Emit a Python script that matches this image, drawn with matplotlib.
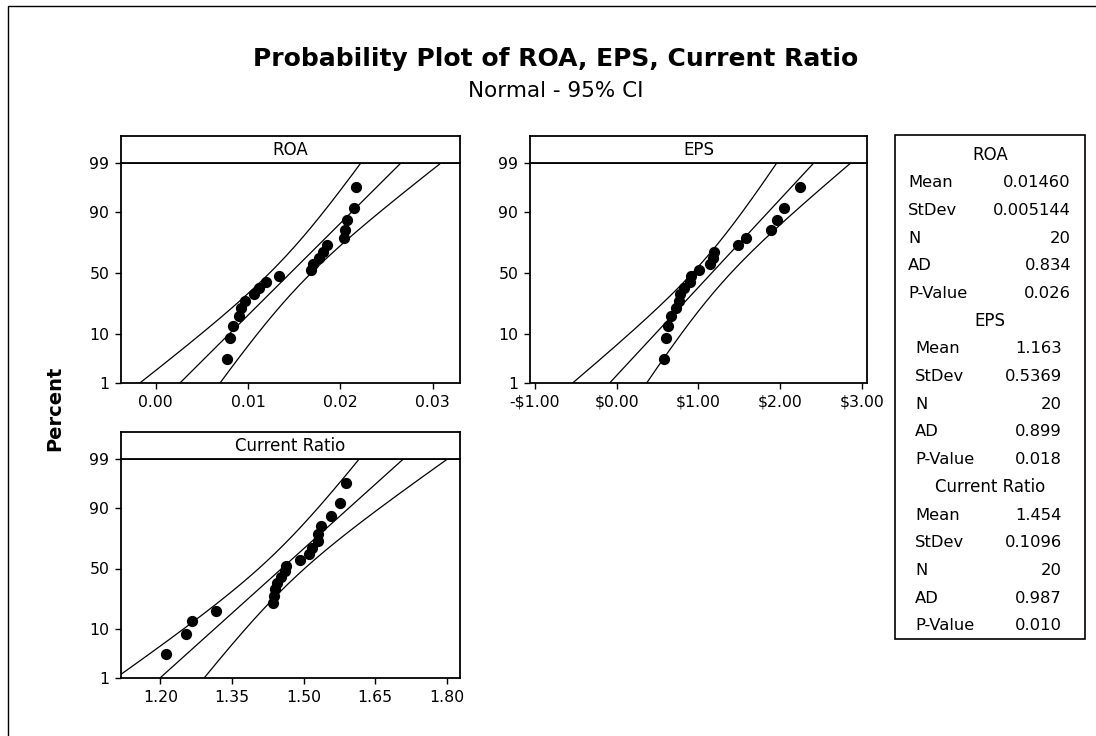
import matplotlib
matplotlib.use('Agg')
import matplotlib.pyplot as plt
from matplotlib.patches import Rectangle
import numpy as np
from statistics import NormalDist

roa = [0.00777, 0.00802, 0.00838, 0.00904, 0.00926, 0.00966, 0.01071, 0.01118, 0.01191, 0.01339,
       0.01681, 0.01710, 0.01771, 0.01815, 0.01855, 0.02044, 0.02051, 0.02069, 0.02152, 0.02174]
eps = [0.584, 0.604, 0.624, 0.669, 0.727, 0.759, 0.776, 0.824, 0.898, 0.910,
       1.004, 1.143, 1.184, 1.192, 1.490, 1.584, 1.890, 1.963, 2.053, 2.245]
current_ratio = [1.211, 1.254, 1.266, 1.317, 1.435, 1.437, 1.441, 1.445, 1.452, 1.460,
                 1.464, 1.492, 1.511, 1.518, 1.531, 1.531, 1.537, 1.558, 1.577, 1.589]

# Summary table (as printed by Minitab)
names = ['ROA', 'EPS', 'Current Ratio']
means = [0.01460, 1.163, 1.454]
stdevs = [0.005144, 0.5369, 0.1096]
ns = [20, 20, 20]
ads = [0.834, 0.899, 0.987]
pvalues = [0.026, 0.018, 0.010]
mean_txt = ['0.01460', '1.163', '1.454']
stdev_txt = ['0.005144', '0.5369', '0.1096']

pct_ticks = [1, 10, 50, 90, 99]
roa_ticks = [0.00, 0.01, 0.02, 0.03]
eps_ticks = [-1.0, 0.0, 1.0, 2.0, 3.0]
cr_ticks = [1.20, 1.35, 1.50, 1.65, 1.80]

W, H = 1096, 736
plt.rcParams['font.family'] = ['DejaVu Sans']

nd = NormalDist()
zlo, zhi = nd.inv_cdf(0.01), nd.inv_cdf(0.99)


def rect(l, t, r, b):
    return [l / W, 1 - b / H, (r - l) / W, (b - t) / H]


fig = plt.figure(figsize=(W / 100, H / 100), dpi=100)
fig.patch.set_facecolor('white')

# outer frame (only left/top edges fall inside the picture)
fig.patches.append(Rectangle((8 / W, -0.1), 1.2, 1 - 6 / H + 0.1, transform=fig.transFigure,
                             fill=False, edgecolor='black', linewidth=1.0))

fig.text(556 / W, 1 - 59 / H, 'Probability Plot of ROA, EPS, Current Ratio',
         ha='center', va='center', fontsize=18, fontweight='bold')
fig.text(556 / W, 1 - 91 / H, 'Normal - 95% CI', ha='center', va='center', fontsize=15.5)
fig.text(55 / W, 1 - 408 / H, 'Percent', ha='center', va='center', rotation=90,
         fontsize=14, fontweight='bold')

panels = [
    (roa, 0, (121, 163, 460, 383), 136, (-0.00375, 0.03297), roa_ticks,
     lambda v: f'{v:.2f}'),
    (eps, 1, (530, 163, 867, 383), 136, (-1.061, 3.064), eps_ticks,
     lambda v: ('-$' if v < 0 else '$') + f'{abs(v):.2f}'),
    (current_ratio, 2, (121, 459, 460, 678), 432, (1.1173, 1.8277), cr_ticks,
     lambda v: f'{v:.2f}'),
]

for data, k, (l, t, r, b), strip_top, xlim, xticks, fmt in panels:
    ax = fig.add_axes(rect(l, t, r, b))
    x = np.sort(np.array(data))
    n = len(x)
    ranks = np.arange(1, n + 1)
    z = np.array([nd.inv_cdf((i - 0.3) / (n + 0.4)) for i in ranks])

    mu, sd = means[k], stdevs[k]
    zg = np.linspace(zlo - 0.05, zhi + 0.05, 300)
    fit = mu + zg * sd
    half = 1.96 * sd * np.sqrt(1.0 / n + zg ** 2 / (2.0 * n))
    for curve in (fit, fit - half, fit + half):
        ax.plot(curve, zg, color='black', linewidth=0.9)
    ax.scatter(x, z, s=50, color='black', zorder=3, clip_on=False)

    ax.set_xlim(*xlim)
    ax.set_ylim(zlo, zhi)
    ax.set_xticks(xticks)
    ax.set_xticklabels([fmt(v) for v in xticks])
    ax.set_yticks([nd.inv_cdf(p / 100) for p in pct_ticks])
    ax.set_yticklabels([str(p) for p in pct_ticks])
    ax.tick_params(direction='out', length=4.5, width=1.0, labelsize=11.3, pad=4)
    for s in ax.spines.values():
        s.set_linewidth(1.3)

    sax = fig.add_axes(rect(l, strip_top, r, t))
    sax.set_xticks([])
    sax.set_yticks([])
    for s in sax.spines.values():
        s.set_linewidth(1.3)
    sax.text(0.5, 0.48, names[k], ha='center', va='center', fontsize=12,
             transform=sax.transAxes)

# statistics box
fig.patches.append(Rectangle((895 / W, 1 - 639 / H), (1085 - 895) / W, (639 - 135) / H,
                             transform=fig.transFigure, fill=False, edgecolor='black',
                             linewidth=1.2))
row = 27.7
y = 155
for k in range(3):
    fig.text(990 / W, 1 - y / H, names[k], ha='center', va='center', fontsize=12)
    y += row
    lx = 908 if k == 0 else 915
    rx = 1071 if k == 0 else 1062
    rows = [('Mean', mean_txt[k]), ('StDev', stdev_txt[k]), ('N', str(ns[k])),
            ('AD', f'{ads[k]:.3f}'), ('P-Value', f'{pvalues[k]:.3f}')]
    for lab, val in rows:
        fig.text(lx / W, 1 - y / H, lab, ha='left', va='center', fontsize=11.8)
        fig.text(rx / W, 1 - y / H, val, ha='right', va='center', fontsize=11.8)
        y += row

fig.savefig('out.png', dpi=100, facecolor='white')
